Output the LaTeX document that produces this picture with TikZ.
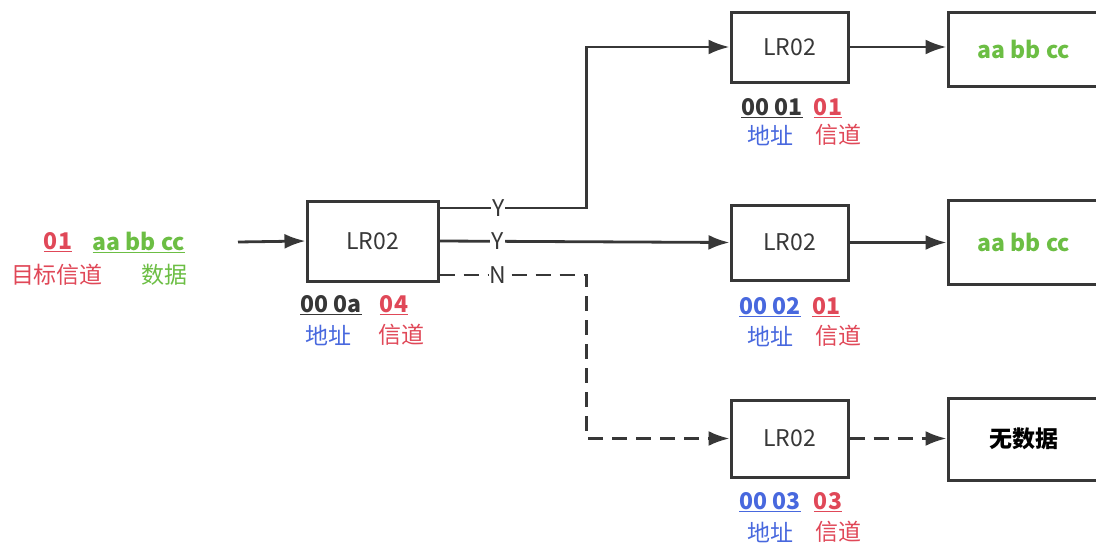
\documentclass[tikz,border=0pt]{standalone}
\usepackage{fontspec}
\setmainfont{Noto Sans CJK SC}
\usepackage{tikz}
\usetikzlibrary{positioning}
\usetikzlibrary{arrows.meta}
\definecolor{chred}{RGB}{224,72,88}
\definecolor{datgreen}{RGB}{108,190,68}
\definecolor{adrblue}{RGB}{72,104,222}
\definecolor{dark}{RGB}{55,55,55}

\begin{document}
\begin{tikzpicture}[x=1pt,y=-1pt,>={Latex[length=21pt,width=15pt]},
  every node/.style={font=\fontsize{23}{27}\selectfont},
  box/.style={draw=dark, line width=3pt, inner sep=0pt, text=dark, minimum width=117pt},
  outbox/.style={box, minimum width=152pt, font=\bfseries\fontsize{23}{27}\selectfont},
  wire/.style={draw=dark, line width=2.8pt},
  dashwire/.style={wire, dash pattern=on 15pt off 9pt},
  num/.style={font=\bfseries\fontsize{23}{27}\selectfont},
  yn/.style={fill=white, text=dark, inner sep=1pt}]
  \useasboundingbox (0,0) rectangle (1096,546);

  % trame en entree
  \node[num, text=chred] (inch) at (58,242) {\underline{01}};
  \node[num, text=datgreen] (indata) at (139,242) {\underline{aa bb cc}};
  \node[text=chred] (inchtxt) at (57,275) {目标信道};
  \node[text=datgreen] (indatatxt) at (164,275) {数据};
  \coordinate (in) at (238,242);

  % module central
  \node[box, minimum width=131pt, minimum height=80pt] (c) at (372.5,241) {LR02};
  \node[num, text=dark] (cadr) at (331,305) {\underline{00 0a}};
  \node[num, text=chred] (cch) at (394,305) {\underline{04}};
  \node[text=adrblue] (cadrtxt) at (328,335) {地址};
  \node[text=chred] (cchtxt) at (401,335) {信道};

  % modules de reception
  \node[box, minimum height=70pt] (a) at (789.5,47) {LR02};
  \node[box, minimum height=75pt] (b) at (789.5,242.5) {LR02};
  \node[box, minimum height=77pt] (d) at (789.5,438.5) {LR02};

  \node[num, text=dark] (aadr) at (772,108) {\underline{00 01}};
  \node[num, text=chred] (ach) at (828,108) {\underline{01}};
  \node[text=adrblue] (aadrtxt) at (770,135) {地址};
  \node[text=chred] (achtxt) at (838,135) {信道};

  \node[num, text=adrblue] (badr) at (770,307) {\underline{00 02}};
  \node[num, text=chred] (bch) at (826,307) {\underline{01}};
  \node[text=adrblue] (badrtxt) at (770,336) {地址};
  \node[text=chred] (bchtxt) at (838,336) {信道};

  \node[num, text=adrblue] (dadr) at (770,502) {\underline{00 03}};
  \node[num, text=chred] (dch) at (828,502) {\underline{03}};
  \node[text=adrblue] (dadrtxt) at (770,532) {地址};
  \node[text=chred] (dchtxt) at (838,532) {信道};

  % sorties
  \node[outbox, minimum height=74pt, text=datgreen] (aout) at (1024,49) {aa bb cc};
  \node[outbox, minimum height=84pt, text=datgreen] (bout) at (1024,242) {aa bb cc};
  \node[outbox, minimum height=82pt, text=black] (dout) at (1024,439) {无数据};

  % liaisons
  \draw[wire, ->] (in) -- (c.west);
  \draw[wire, ->] ([yshift=33pt]c.east) -- node[yn, pos=0.4] {Y} ++(147,0) |- (a.west);
  \draw[wire, ->] (c.east) -- node[yn, pos=0.2] {Y} (b.west);
  \draw[dashwire, ->] ([yshift=-34pt]c.east) -- node[yn, pos=0.4] {N} ++(147,0) |- (d.west);
  \draw[wire, ->] (a.east) -- (aout.west |- a.east);
  \draw[wire, ->] (b.east) -- (bout.west |- b.east);
  \draw[dashwire, ->] (d.east) -- (dout.west |- d.east);
\end{tikzpicture}
\end{document}
